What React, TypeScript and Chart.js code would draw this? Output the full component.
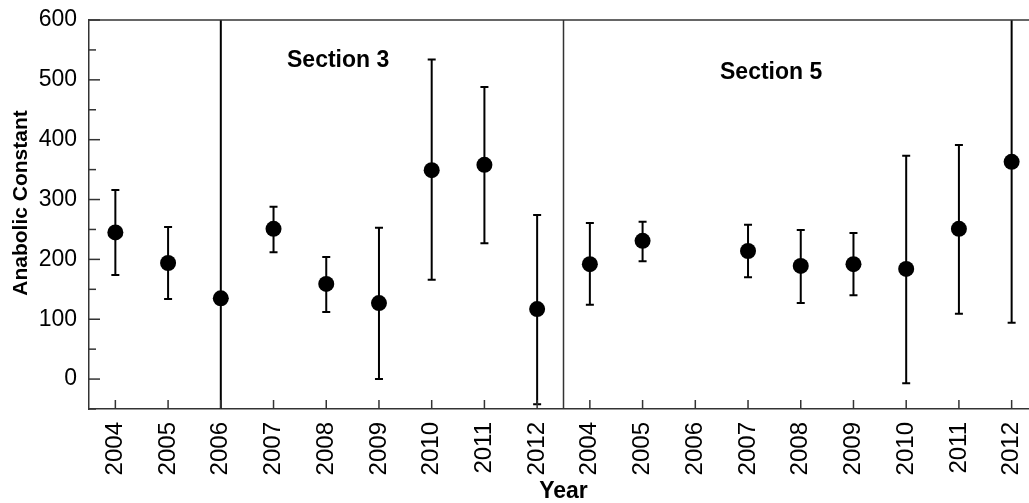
import React, { useEffect, useRef } from "react";
import { Chart, registerables } from "chart.js";

Chart.register(...registerables);

const years = ["2004", "2005", "2006", "2007", "2008", "2009", "2010", "2011", "2012"];
const section3Values = [245, 194, 135, 251, 159, 127, 349, 358, 117];
const section3Low = [174, 134, -200, 212, 112, 0, 166, 227, -42];
const section3High = [316, 254, 800, 288, 204, 253, 534, 488, 274];
const section5Values = [192, 231, null, 214, 189, 192, 184, 251, 363];
const section5Low = [124, 197, null, 170, 127, 140, -7, 109, 94];
const section5High = [261, 263, null, 258, 249, 244, 373, 391, 700];
const sectionLabels = ["Section 3", "Section 5"];
const yTickValues = [-50, 0, 50, 100, 150, 200, 250, 300, 350, 400, 450, 500, 550, 600];

const FONT = "'Liberation Sans', Arial, Helvetica, sans-serif";
const AXIS_COLOR = "#333333";
const CANVAS_W = 1046;

const labels = [...years, ...years];
const values = [...section3Values, ...section5Values];
const lows = [...section3Low, ...section5Low];
const highs = [...section3High, ...section5High];

const overlayPlugin = {
  id: "overlay",
  beforeDatasetsDraw(chart: any) {
    const { ctx, chartArea, scales } = chart;
    const x = scales.x;
    const y = scales.y;
    ctx.save();
    ctx.beginPath();
    ctx.rect(chartArea.left, chartArea.top, chartArea.right - chartArea.left, chartArea.bottom - chartArea.top);
    ctx.clip();
    ctx.strokeStyle = "#000";
    ctx.lineWidth = 2;
    for (let i = 0; i < values.length; i++) {
      if (values[i] === null || lows[i] === null || highs[i] === null) continue;
      const px = x.getPixelForValue(i);
      const pl = y.getPixelForValue(lows[i] as number);
      const ph = y.getPixelForValue(highs[i] as number);
      ctx.beginPath();
      ctx.moveTo(px, pl);
      ctx.lineTo(px, ph);
      ctx.moveTo(px - 4, pl);
      ctx.lineTo(px + 4, pl);
      ctx.moveTo(px - 4, ph);
      ctx.lineTo(px + 4, ph);
      ctx.stroke();
    }
    ctx.restore();
  },
  afterDatasetsDraw(chart: any) {
    const { ctx, chartArea, scales } = chart;
    const x = scales.x;
    const y = scales.y;
    ctx.save();
    ctx.strokeStyle = AXIS_COLOR;
    ctx.lineWidth = 1.5;
    // top border
    ctx.beginPath();
    ctx.moveTo(chartArea.left, chartArea.top);
    ctx.lineTo(chartArea.right, chartArea.top);
    ctx.stroke();
    // separator between sections
    const sep = (x.getPixelForValue(years.length - 1) + x.getPixelForValue(years.length)) / 2;
    ctx.beginPath();
    ctx.moveTo(sep, chartArea.top);
    ctx.lineTo(sep, chartArea.bottom);
    ctx.stroke();
    // inward y ticks
    for (const v of yTickValues) {
      const py = y.getPixelForValue(v);
      const len = v % 100 === 0 ? 11 : 7;
      ctx.beginPath();
      ctx.moveTo(chartArea.left, py);
      ctx.lineTo(chartArea.left + len, py);
      ctx.stroke();
    }
    // inward x ticks
    for (let i = 0; i < labels.length; i++) {
      const px = x.getPixelForValue(i);
      ctx.beginPath();
      ctx.moveTo(px, chartArea.bottom);
      ctx.lineTo(px, chartArea.bottom - 9);
      ctx.stroke();
    }
    // section labels
    ctx.fillStyle = "#000";
    ctx.font = `bold 23px ${FONT}`;
    ctx.textAlign = "left";
    ctx.textBaseline = "middle";
    ctx.fillText(sectionLabels[0], 287, 61);
    ctx.fillText(sectionLabels[1], 720, 73);
    // y axis title
    ctx.save();
    ctx.translate(21, 203);
    ctx.rotate(-Math.PI / 2);
    ctx.textAlign = "center";
    ctx.textBaseline = "middle";
    ctx.font = `bold 21px ${FONT}`;
    ctx.fillText("Anabolic Constant", 0, 0);
    ctx.restore();
    ctx.restore();
  },
};

export default function App() {
  const canvasRef = useRef<HTMLCanvasElement | null>(null);

  useEffect(() => {
    const canvas = canvasRef.current;
    if (!canvas) return;
    const chart = new Chart(canvas, {
      type: "line",
      data: {
        labels,
        datasets: [
          {
            data: values as any,
            showLine: false,
            pointRadius: 8,
            pointHoverRadius: 8,
            pointBackgroundColor: "#000",
            pointBorderColor: "#000",
            pointBorderWidth: 0,
            borderColor: "#000",
          },
        ],
      },
      options: {
        animation: false,
        responsive: false,
        devicePixelRatio: 1,
        layout: { padding: { top: 20, right: 2, left: 0, bottom: 0 } },
        plugins: {
          legend: { display: false },
          tooltip: { enabled: false },
        },
        scales: {
          x: {
            type: "category",
            offset: true,
            grid: { display: true, drawOnChartArea: false, drawTicks: false },
            border: { display: true, color: AXIS_COLOR, width: 1.5 },
            ticks: {
              autoSkip: false,
              minRotation: 90,
              maxRotation: 90,
              padding: 13,
              color: "#000",
              font: { family: FONT, size: 24 },
            },
            title: {
              display: true,
              text: "Year",
              color: "#000",
              font: { family: FONT, size: 23, weight: "bold", lineHeight: 1 },
              padding: { top: 0, bottom: 0 },
            },
            afterFit: (scale: any) => {
              scale.height = 94;
              scale.paddingLeft = 0;
              scale.paddingRight = 0;
              scale.paddingTop = 0;
              scale.paddingBottom = 0;
            },
          },
          y: {
            min: -50,
            max: 600,
            afterBuildTicks: (scale: any) => {
              scale.ticks = yTickValues.map((v) => ({ value: v }));
            },
            grid: { display: true, drawOnChartArea: false, drawTicks: false },
            border: { display: true, color: AXIS_COLOR, width: 1.5 },
            ticks: {
              autoSkip: false,
              padding: 12,
              color: "#000",
              font: { family: FONT, size: 23 },
              callback: (v: any) => (Number(v) % 100 === 0 ? String(v) : ""),
            },
            afterFit: (scale: any) => {
              scale.width = 89;
              scale.paddingLeft = 0;
              scale.paddingRight = 0;
              scale.paddingTop = 0;
              scale.paddingBottom = 0;
            },
          },
        },
      },
      plugins: [overlayPlugin],
    } as any);
    return () => chart.destroy();
  }, []);

  return (
    <div style={{ position: "absolute", left: 0, top: 0, width: CANVAS_W, height: 503, background: "#fff" }}>
      <canvas ref={canvasRef} width={CANVAS_W} height={503} style={{ width: CANVAS_W, height: 503, display: "block" }} />
    </div>
  );
}
